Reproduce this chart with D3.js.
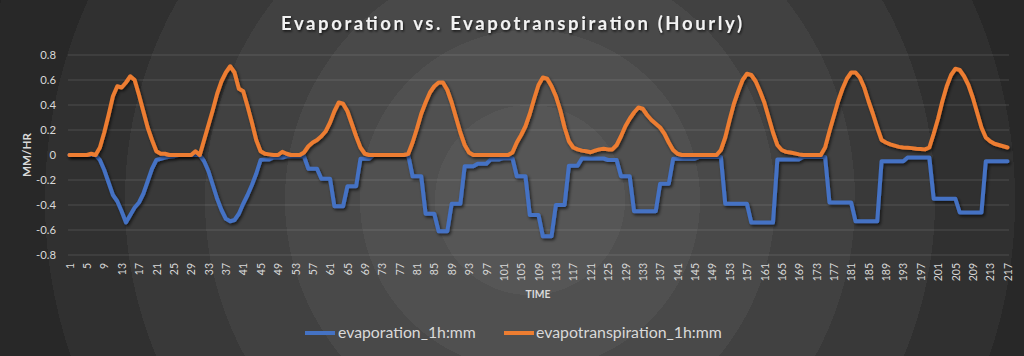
<!DOCTYPE html>
<html><head><meta charset="utf-8">
<script src="https://cdn.jsdelivr.net/npm/d3@7"></script>
<style>
html,body{margin:0;padding:0;background:#222;}
svg{display:block;font-family:Lato,'Open Sans',sans-serif;}
</style></head><body>
<svg id="chart" width="1024" height="356"></svg>
<script>
// ---------- DATA ----------
const categories = d3.range(1, 218); // hourly index 1..217
const evaporation = [
  0,0,0,0,0,0,0,-0.04,-0.12,-0.22,-0.32,-0.37,-0.45,-0.54,-0.48,-0.42,-0.38,-0.31,-0.21,-0.11,-0.04,-0.03,-0.02,-0.015,
  -0.01,0,0,0,0,0,0,-0.05,-0.13,-0.24,-0.35,-0.44,-0.51,-0.53,-0.52,-0.47,-0.39,-0.32,-0.24,-0.15,-0.04,-0.035,-0.035,-0.02,
  -0.02,-0.02,-0.01,-0.01,-0.01,-0.01,-0.01,-0.11,-0.11,-0.11,-0.19,-0.19,-0.19,-0.41,-0.41,-0.41,-0.25,-0.25,-0.25,-0.03,-0.03,-0.03,0,0,
  0,0,0,0,0,0,0,-0.17,-0.17,-0.17,-0.47,-0.47,-0.47,-0.61,-0.61,-0.61,-0.39,-0.39,-0.39,-0.09,-0.09,-0.09,-0.07,-0.07,
  -0.07,-0.035,-0.035,-0.035,-0.025,-0.025,-0.025,-0.17,-0.17,-0.17,-0.48,-0.48,-0.48,-0.65,-0.65,-0.65,-0.4,-0.4,-0.4,-0.085,-0.085,-0.085,-0.028,-0.028,
  -0.028,-0.028,-0.028,-0.028,-0.04,-0.04,-0.04,-0.17,-0.17,-0.17,-0.45,-0.45,-0.45,-0.45,-0.45,-0.45,-0.23,-0.23,-0.23,-0.03,-0.03,-0.03,-0.03,-0.03,
  -0.03,-0.015,-0.015,-0.015,-0.015,-0.015,-0.015,-0.39,-0.39,-0.39,-0.39,-0.39,-0.39,-0.54,-0.54,-0.54,-0.54,-0.54,-0.54,-0.035,-0.035,-0.035,-0.035,-0.035,
  -0.035,-0.015,-0.015,-0.015,-0.015,-0.015,-0.015,-0.38,-0.38,-0.38,-0.38,-0.38,-0.38,-0.53,-0.53,-0.53,-0.53,-0.53,-0.53,-0.05,-0.05,-0.05,-0.05,-0.05,
  -0.05,-0.02,-0.02,-0.02,-0.02,-0.02,-0.02,-0.35,-0.35,-0.35,-0.35,-0.35,-0.35,-0.46,-0.46,-0.46,-0.46,-0.46,-0.46,-0.05,-0.05,-0.05,-0.05,-0.05,
  -0.05
];
const evapotranspiration = [
  0,0,0,0,0,0.01,0,0.06,0.18,0.32,0.47,0.55,0.54,0.58,0.63,0.6,0.48,0.35,0.22,0.12,0.03,0.01,0.01,0,
  0,0,0,0,0,0.03,0,0.12,0.24,0.36,0.49,0.59,0.66,0.71,0.66,0.53,0.51,0.39,0.26,0.12,0.03,0.01,0.005,0,
  0,0.025,0.01,0,0,0,0.02,0.07,0.1,0.12,0.15,0.19,0.26,0.35,0.42,0.41,0.35,0.25,0.15,0.06,0.01,0,0,0,
  0,0,0,0,0,0,0.01,0.1,0.21,0.33,0.42,0.5,0.55,0.58,0.58,0.52,0.42,0.3,0.18,0.08,0.02,0,0,0,
  0,0,0,0,0,0,0.02,0.1,0.16,0.23,0.33,0.45,0.56,0.62,0.61,0.55,0.47,0.36,0.22,0.11,0.06,0.045,0.035,0.03,
  0.022,0.035,0.045,0.05,0.045,0.045,0.08,0.15,0.23,0.29,0.34,0.38,0.37,0.32,0.28,0.25,0.22,0.17,0.1,0.04,0.01,0,0,0,
  0,0,0,0,0,0,0.04,0.14,0.28,0.41,0.51,0.6,0.65,0.64,0.59,0.51,0.42,0.3,0.18,0.08,0.04,0.025,0.02,0.013,
  0.005,0,0,0,0,0,0.06,0.19,0.31,0.43,0.53,0.61,0.66,0.66,0.62,0.54,0.43,0.33,0.22,0.12,0.1,0.085,0.075,0.065,
  0.06,0.058,0.055,0.05,0.048,0.045,0.06,0.17,0.29,0.43,0.55,0.64,0.69,0.68,0.63,0.56,0.46,0.34,0.22,0.14,0.11,0.09,0.08,0.07,
  0.06
];
const yTickValues = [-0.8,-0.6,-0.4,-0.2,0,0.2,0.4,0.6,0.8];
const xTickLabels = categories.filter(c => (c - 1) % 4 === 0);
const seriesNames = ["evaporation_1h:mm", "evapotranspiration_1h:mm"];
const chartTitle = "Evaporation vs. Evapotranspiration (Hourly)";
const xTitle = "TIME";
const yTitle = "MM/HR";

// ---------- STYLE / LAYOUT ----------
const W = 1024, H = 356;
const colors = ["#4472C4", "#ED7D31"];
const plot = {left: 68, right: 1009, top: 55, bottom: 255};
const svg = d3.select("#chart");
const defs = svg.append("defs");

// ringed radial background
const rg = defs.append("radialGradient").attr("id","bg")
  .attr("gradientUnits","userSpaceOnUse").attr("cx",530).attr("cy",200).attr("r",620);
const rings = [[95,"#565656"],[170,"#505050"],[245,"#494949"],[325,"#414141"],[405,"#393939"],[485,"#303030"],[565,"#282828"],[620,"#222222"]];
let prev = 0;
rings.forEach(([r,c]) => {
  rg.append("stop").attr("offset", prev/620).attr("stop-color", c);
  rg.append("stop").attr("offset", r/620).attr("stop-color", c);
  prev = r;
});
const f = defs.append("filter").attr("id","sh").attr("x","-5%").attr("y","-30%").attr("width","110%").attr("height","160%");
f.append("feDropShadow").attr("dx",1.5).attr("dy",2).attr("stdDeviation",1.5).attr("flood-color","#000").attr("flood-opacity",0.6);
const ft = defs.append("filter").attr("id","tsh").attr("x","-5%").attr("y","-30%").attr("width","110%").attr("height","160%");
ft.append("feDropShadow").attr("dx",1).attr("dy",1.5).attr("stdDeviation",1).attr("flood-color","#000").attr("flood-opacity",0.7);

svg.append("rect").attr("width",W).attr("height",H).attr("fill","url(#bg)");

const x = d3.scalePoint().domain(categories).range([69.5, 1007.5]);
const y = d3.scaleLinear().domain([-0.8, 0.8]).range([plot.bottom, plot.top]);

// gridlines
svg.append("g").selectAll("line").data(yTickValues.filter(v => v !== 0)).join("line")
  .attr("x1", plot.left).attr("x2", plot.right)
  .attr("y1", d => y(d)).attr("y2", d => y(d))
  .attr("stroke", "rgba(255,255,255,0.14)").attr("stroke-width", 1);

// zero axis line
svg.append("line").attr("x1", plot.left).attr("x2", plot.right)
  .attr("y1", y(0)).attr("y2", y(0)).attr("stroke", "#f2f2f2").attr("stroke-width", 3)
  .attr("filter","url(#sh)");

function fit(sel, target) {
  const w = sel.node().getComputedTextLength();
  const fs = parseFloat(sel.attr("font-size"));
  return fs * target / w;
}

// y axis labels
const yAxis = d3.axisLeft(y).tickValues(yTickValues).tickSize(0).tickPadding(0)
  .tickFormat(d => d === 0 ? "0" : d3.format(".1f")(d).replace("−","-"));
const gy = svg.append("g").attr("transform", `translate(56,0)`).call(yAxis);
gy.select(".domain").remove();
gy.selectAll("text").attr("fill","#d9d9d9").attr("font-family","Lato,'Open Sans',sans-serif").attr("font-size",12).attr("dy","0.35em");
{
  const t = gy.selectAll("text").filter(d => d === -0.8);
  const fs = fit(t, 20);
  gy.selectAll("text").attr("font-size", fs);
}

// x axis labels
const xAxis = d3.axisBottom(x).tickValues(xTickLabels).tickSize(0).tickPadding(0);
const gx = svg.append("g").attr("transform", `translate(0,263)`).call(xAxis);
gx.select(".domain").remove();
gx.selectAll("text").attr("fill","#d9d9d9").attr("font-family","Lato,'Open Sans',sans-serif").attr("font-size",12)
  .attr("text-anchor","end").attr("transform","rotate(-90)").attr("x",0).attr("y",0).attr("dy","0.35em");
{
  const t = gx.selectAll("text").filter(d => d === 217);
  const fs = fit(t, 18.3);
  gx.selectAll("text").attr("font-size", fs);
}

// axis titles
const xt = svg.append("text").attr("x", 538).attr("y", 298).attr("text-anchor","middle")
  .attr("fill","#d9d9d9").attr("font-weight","bold").attr("font-size",12).text(xTitle);
xt.attr("font-size", fit(xt, 25));
const yt = svg.append("text").attr("transform","translate(27,155) rotate(-90)").attr("text-anchor","middle")
  .attr("dy","0.35em").attr("fill","#d9d9d9").attr("font-weight","bold").attr("font-size",12).text(yTitle);
yt.attr("font-size", fit(yt, 44));

// title
svg.append("text").attr("x", 511.5).attr("y", 30).attr("text-anchor","middle")
  .attr("fill","#f2f2f2").attr("font-size",18.5).attr("font-weight","bold")
  .attr("textLength", 461).attr("lengthAdjust","spacing")
  .attr("filter","url(#tsh)").text(chartTitle);

// series
const line = d3.line().x((d,i) => x(categories[i])).y(d => y(d));
[evaporation, evapotranspiration].forEach((vals, k) => {
  svg.append("path").datum(vals).attr("d", line).attr("fill","none")
    .attr("stroke", colors[k]).attr("stroke-width", 4)
    .attr("stroke-linejoin","round").attr("stroke-linecap","round")
    .attr("filter","url(#sh)");
});

// legend
const legendPos = [{lx: 305, tx: 338, w: 138}, {lx: 504, tx: 536, w: 186}];
seriesNames.forEach((name, k) => {
  const p = legendPos[k];
  svg.append("line").attr("x1", p.lx).attr("x2", p.lx + 30).attr("y1", 333).attr("y2", 333)
    .attr("stroke", colors[k]).attr("stroke-width", 4);
  const t = svg.append("text").attr("x", p.tx).attr("y", 338).attr("fill","#d9d9d9")
    .attr("font-size", 15).text(name);
  t.attr("font-size", fit(t, p.w));
});
</script>
</body></html>
